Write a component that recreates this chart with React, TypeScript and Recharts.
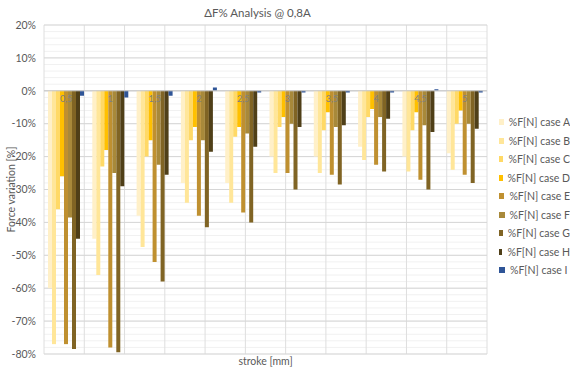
import React from 'react';
import { BarChart, Bar, XAxis, YAxis, CartesianGrid, Legend, ReferenceLine } from 'recharts';

const categories = ['0,5', '1', '1,5', '2', '2,5', '3', '3,5', '4', '4,5', '5'];
const caseA = [-60, -45, -38, -28, -28, -20, -20, -17, -20, -19];
const caseB = [-77, -56, -47.5, -34, -34, -25, -25, -21, -24.5, -24];
const caseC = [-36, -23, -20, -15, -14, -11, -12, -8, -12, -10];
const caseD = [-26, -18, -15, -11, -11, -8, -6.5, -5.5, -6.5, -6];
const caseE = [-77, -78, -52, -38, -37, -25, -25.5, -22.5, -27, -25.5];
const caseF = [-38.5, -25, -22.5, -15, -13, -10, -11, -8, -10.5, -10];
const caseG = [-78.5, -79.5, -58, -41.5, -40, -30, -28.5, -24.5, -30, -28];
const caseH = [-45, -29, -25.5, -18.5, -17, -11, -10.5, -8.5, -12.5, -11.5];
const caseI = [-1.5, -2, -1.5, 1, -0.5, -0.5, -0.5, -0.5, 0.5, -0.5];
const yTicks = [-80, -70, -60, -50, -40, -30, -20, -10, 0, 10, 20];

const series = [
  { key: 'A', name: '%F[N] case A', values: caseA, color: '#FFF0C8' },
  { key: 'B', name: '%F[N] case B', values: caseB, color: '#FFE699' },
  { key: 'C', name: '%F[N] case C', values: caseC, color: '#FFD966' },
  { key: 'D', name: '%F[N] case D', values: caseD, color: '#FFC000' },
  { key: 'E', name: '%F[N] case E', values: caseE, color: '#BF9030' },
  { key: 'F', name: '%F[N] case F', values: caseF, color: '#A8893A' },
  { key: 'G', name: '%F[N] case G', values: caseG, color: '#806424' },
  { key: 'H', name: '%F[N] case H', values: caseH, color: '#4F3F18' },
  { key: 'I', name: '%F[N] case I', values: caseI, color: '#2F5597' },
];

const data = categories.map((c, i) => {
  const row: any = { name: c };
  series.forEach((s) => { row[s.key] = s.values[i]; });
  return row;
});

const W = 570;
const H = 371;
const M = { top: 25, right: 83, bottom: 0, left: 0 };
const XH = 17;
const plotH = H - M.top - M.bottom - XH;
const zeroY = M.top + plotH * (20 / 100);

const CatTick = (props: any) => {
  const { x, payload } = props;
  return (
    <text x={x} y={zeroY + 11} textAnchor="middle" fontSize={9} fill="#808080">
      {payload.value}
    </text>
  );
};

const renderLegend = () => (
  <div>
    {series.map((s) => (
      <div key={s.key} style={{ display: 'flex', alignItems: 'center', height: 18.5, fontSize: 10.5, color: '#595959', whiteSpace: 'nowrap' }}>
        <span style={{ display: 'inline-block', width: 6, height: 6, background: s.color, marginRight: 5 }} />
        {s.name}
      </div>
    ))}
  </div>
);

const minorH = ({ offset }: any) => {
  const out: number[] = [];
  for (let i = 0; i <= 50; i++) out.push(offset.top + (offset.height * i) / 50);
  return out;
};
const majorV = ({ offset }: any) => {
  const out: number[] = [];
  for (let i = 0; i <= 11; i++) out.push(offset.left + (offset.width * i) / 11);
  return out;
};

export default function App() {
  return (
    <div style={{ position: 'absolute', left: 0, top: 0, width: W, height: H, background: '#fff', fontFamily: 'Lato, sans-serif' }}>
      <div style={{ position: 'absolute', left: 0, width: 515, top: 6, textAlign: 'center', fontSize: 11.5, color: '#595959' }}>
        ΔF% Analysis @ 0,8A
      </div>
      <BarChart width={W} height={H} data={data} margin={M} barSize={4} barGap="0%">
        <CartesianGrid stroke="#f1f1f1" vertical={false} horizontalCoordinatesGenerator={minorH} />
        <CartesianGrid stroke="#dedede" horizontal={false} verticalCoordinatesGenerator={majorV} />
        <YAxis
          domain={[-80, 20]}
          ticks={yTicks}
          width={44}
          tickFormatter={(v) => `${v}%`}
          tick={{ fontSize: 10.5, fill: '#595959' }}
          axisLine={false}
          tickLine={false}
          label={{ value: 'Force variation [%]', angle: -90, position: 'insideLeft', offset: 11, style: { textAnchor: 'middle', fontSize: 10.5, fill: '#595959' } }}
          allowDataOverflow
        />
        <CartesianGrid stroke="#d6d6d6" vertical={false} />
        {series.map((s) => (
          <Bar key={s.key} dataKey={s.key} name={s.name} fill={s.color} isAnimationActive={false} />
        ))}
        <ReferenceLine y={0} stroke="#c8c8c8" />
        <XAxis
          dataKey="name"
          height={XH}
          axisLine={false}
          tickLine={false}
          tick={<CatTick />}
          interval={0}
          label={{ value: 'stroke [mm]', position: 'insideBottom', offset: 6, style: { fontSize: 10.5, fill: '#595959' } }}
        />
        <Legend content={renderLegend} layout="horizontal" verticalAlign="middle" align="center" wrapperStyle={{ left: 499, top: 113, width: 71 }} />
      </BarChart>
    </div>
  );
}
